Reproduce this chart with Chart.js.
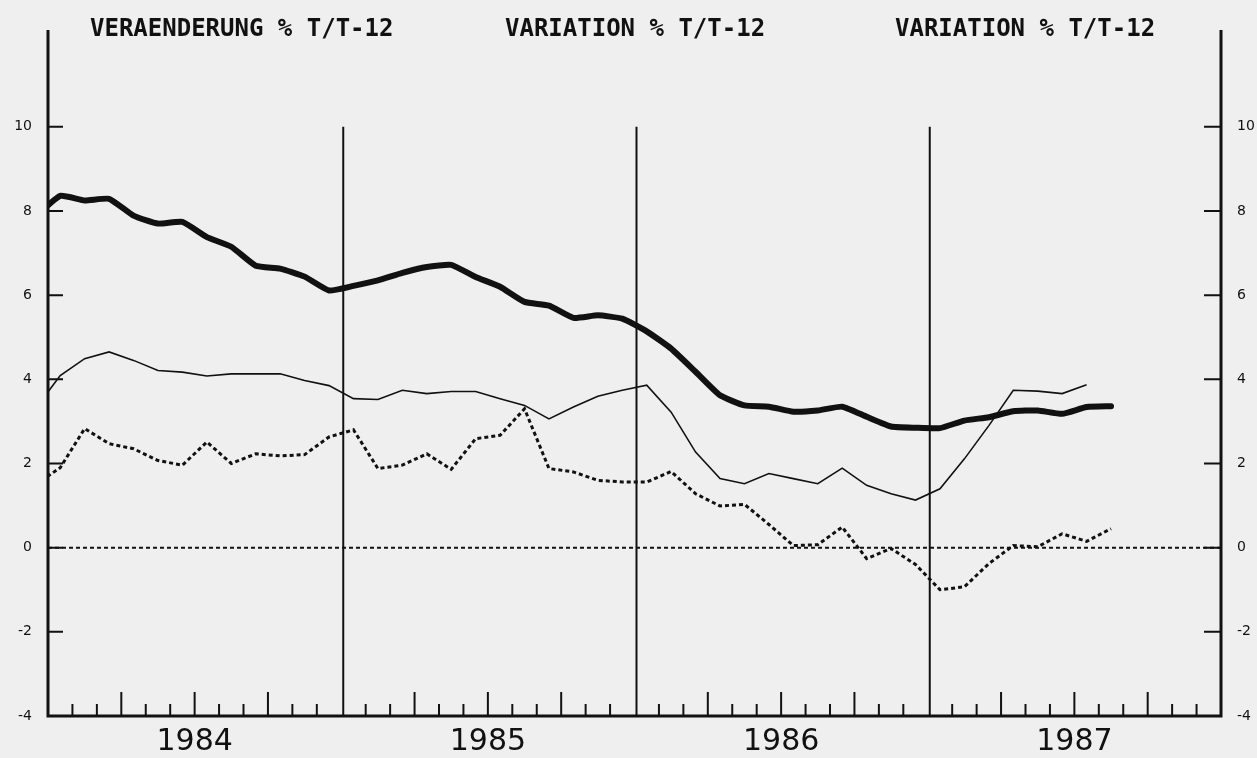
<!DOCTYPE html>
<html>
<head>
<meta charset="utf-8">
<script src="https://cdn.jsdelivr.net/npm/chart.js@4.4.0/dist/chart.umd.min.js"></script>
<style>
    html, body { margin: 0; padding: 0; background: #efefef; }
</style>
</head>
<body>
<canvas id="chart" width="1257" height="758"></canvas>
<script>
// Mois 0 = janvier 1984; la première valeur (déc. 1983) est coupée par l'axe
const startMonth = -1;

const seriesThick = [7.88,
    8.36, 8.25, 8.29, 7.89, 7.70, 7.74, 7.38, 7.15, 6.70, 6.63, 6.44, 6.11,
    6.22, 6.35, 6.53, 6.67, 6.72, 6.43, 6.20, 5.84, 5.75, 5.46, 5.52, 5.44,
    5.14, 4.73, 4.18, 3.62, 3.38, 3.35, 3.23, 3.26, 3.35, 3.11, 2.88, 2.85,
    2.84, 3.02, 3.10, 3.24, 3.26, 3.18, 3.34, 3.36];

const seriesThin = [3.31,
    4.09, 4.49, 4.65, 4.45, 4.21, 4.17, 4.08, 4.13, 4.13, 4.13, 3.97, 3.85,
    3.54, 3.52, 3.74, 3.66, 3.71, 3.71, 3.54, 3.38, 3.06, 3.34, 3.60, 3.74,
    3.86, 3.22, 2.27, 1.64, 1.52, 1.76, 1.64, 1.52, 1.89, 1.48, 1.28, 1.13,
    1.40, 2.11, 2.90, 3.74, 3.72, 3.66, 3.87];

const seriesDotted = [1.50,
    1.90, 2.83, 2.47, 2.35, 2.07, 1.96, 2.51, 2.00, 2.23, 2.18, 2.21, 2.63,
    2.80, 1.88, 1.96, 2.23, 1.86, 2.59, 2.67, 3.30, 1.88, 1.80, 1.60, 1.56,
    1.56, 1.81, 1.28, 0.99, 1.03, 0.55, 0.05, 0.07, 0.49, -0.26, -0.02, -0.40,
    -1.00, -0.93, -0.38, 0.05, 0.02, 0.33, 0.15, 0.45];

const yearLabels = ["1984", "1985", "1986", "1987"];
const yTicks = [-4, -2, 0, 2, 4, 6, 8, 10];
const titles = ["VERAENDERUNG % T/T-12", "VARIATION % T/T-12", "VARIATION % T/T-12"];
const titleX = [90, 505, 895];

const ink = "#111";

function toPoints(values) {
    return values.map((v, k) => ({ x: startMonth + k + 0.5, y: v }));
}

// cadre, graduations, lignes d'années, titres
const frame = {
    id: "frame",
    beforeDraw(chart) {
        const ctx = chart.ctx;
        ctx.save();
        ctx.fillStyle = "#efefef";
        ctx.fillRect(0, 0, chart.width, chart.height);
        ctx.restore();
    },
    beforeDatasetsDraw(chart) {
        const { ctx, chartArea: a, scales: { x, y } } = chart;
        ctx.save();
        ctx.strokeStyle = ink;

        // ligne du zéro
        const y0 = y.getPixelForValue(0);
        ctx.setLineDash([4, 3]);
        ctx.lineWidth = 2;
        ctx.beginPath();
        ctx.moveTo(a.left, y0);
        ctx.lineTo(a.right, y0);
        ctx.stroke();
        ctx.setLineDash([]);

        // séparations des années
        ctx.lineWidth = 2;
        const y10 = y.getPixelForValue(10);
        [12, 24, 36].forEach(m => {
            const px = x.getPixelForValue(m) + 2;
            ctx.beginPath();
            ctx.moveTo(px, y10);
            ctx.lineTo(px, a.bottom);
            ctx.stroke();
        });

        // graduations mensuelles
        for (let m = 1; m < 48; m++) {
            if (m % 12 === 0) continue;
            const px = x.getPixelForValue(m);
            const len = m % 3 === 0 ? 24 : 12;
            ctx.beginPath();
            ctx.moveTo(px, a.bottom);
            ctx.lineTo(px, a.bottom - len);
            ctx.stroke();
        }

        // graduations verticales
        yTicks.forEach(v => {
            if (v === -4) return;
            const py = y.getPixelForValue(v);
            ctx.beginPath();
            ctx.moveTo(a.left, py);
            ctx.lineTo(a.left + 15, py);
            ctx.moveTo(a.right - 17, py);
            ctx.lineTo(a.right, py);
            ctx.stroke();
        });

        // axes
        ctx.lineWidth = 3;
        ctx.beginPath();
        ctx.moveTo(a.left, a.top);
        ctx.lineTo(a.left, a.bottom);
        ctx.lineTo(a.right, a.bottom);
        ctx.lineTo(a.right, a.top);
        ctx.stroke();

        // titres
        ctx.fillStyle = ink;
        ctx.font = "bold 24px 'DejaVu Sans Mono'";
        ctx.textBaseline = "alphabetic";
        titles.forEach((t, k) => ctx.fillText(t, titleX[k], 36));

        ctx.restore();
    }
};

const yAxis = (pos, width) => ({
    type: "linear",
    position: pos,
    min: -4,
    max: 12.3,
    afterBuildTicks: s => { s.ticks = yTicks.map(v => ({ value: v })); },
    afterFit: s => { s.width = width; },
    grid: { display: false, drawTicks: false },
    border: { display: false },
    ticks: {
        color: ink,
        padding: 16,
        font: { family: "DejaVu Sans", size: 14 }
    }
});

new Chart(document.getElementById("chart"), {
    type: "line",
    data: {
        datasets: [
            {
                data: toPoints(seriesThick),
                borderColor: ink,
                borderWidth: 6,
                tension: 0.15,
                borderCapStyle: "round",
                borderJoinStyle: "round",
                pointRadius: 0
            },
            {
                data: toPoints(seriesThin),
                borderColor: ink,
                borderWidth: 1.6,
                tension: 0,
                pointRadius: 0
            },
            {
                data: toPoints(seriesDotted),
                borderColor: ink,
                borderWidth: 3,
                borderDash: [4, 3],
                tension: 0,
                pointRadius: 0
            }
        ]
    },
    options: {
        responsive: false,
        devicePixelRatio: 1,
        animation: false,
        layout: { padding: { top: 30, left: 0, right: 0, bottom: 0 } },
        plugins: {
            legend: { display: false },
            tooltip: { enabled: false }
        },
        scales: {
            x: {
                type: "linear",
                min: 0,
                max: 48,
                afterBuildTicks: s => { s.ticks = yearLabels.map((_, k) => ({ value: 6 + 12 * k })); },
                afterFit: s => { s.height = 42; },
                grid: { display: false, drawTicks: false },
                border: { display: false },
                ticks: {
                    color: ink,
                    padding: 8,
                    maxRotation: 0,
                    autoSkip: false,
                    font: { family: "DejaVu Sans", size: 30 },
                    callback: v => yearLabels[Math.round((v - 6) / 12)]
                }
            },
            y: yAxis("left", 48),
            y2: yAxis("right", 36)
        }
    },
    plugins: [frame]
});
</script>
</body>
</html>
